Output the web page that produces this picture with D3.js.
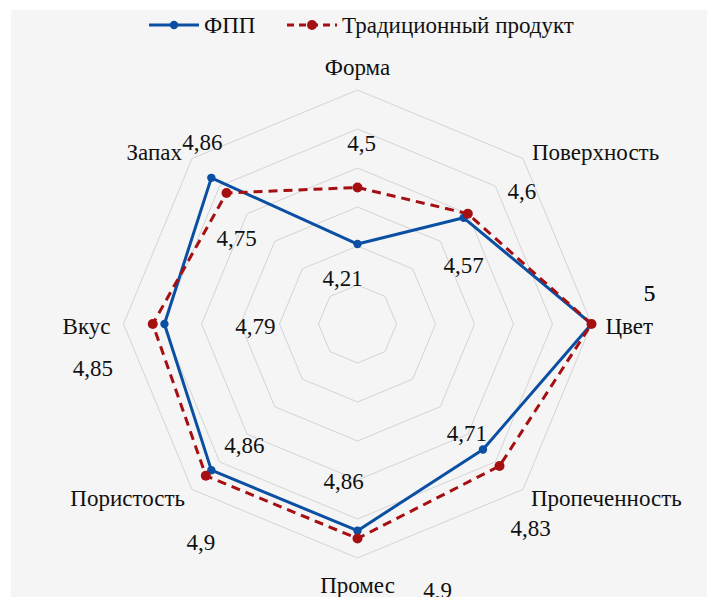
<!DOCTYPE html>
<html>
<head>
<meta charset="utf-8">
<script src="https://cdn.jsdelivr.net/npm/d3@7"></script>
</head>
<body style="margin:0">
<svg id="chart" width="707" height="597" style="display:block"></svg>
<script>
// Sensory profile: axes, clockwise from the top
const axes = ["Форма", "Поверхность", "Цвет", "Пропеченность", "Промес", "Пористость", "Вкус", "Запах"];
const seriesNames = ["ФПП", "Традиционный продукт"];
const fppValues = [4.21, 4.57, 5, 4.71, 4.86, 4.86, 4.79, 4.86];
const tradValues = [4.5, 4.6, 5, 4.83, 4.9, 4.9, 4.85, 4.75];
const gridTicks = [4.0, 4.2, 4.4, 4.6, 4.8, 5.0];

// layout: label offsets (px) for the value labels of each series and the axis names
const fppLabelOffsets = [[-15, 34], [0, 48], [58, -31], [-16, -16], [-14, -49], [33, -25], [91, 2], [-9, -35]];
const tradLabelOffsets = [[4, -44], [54, -22], [58, -31], [31, 62], [80, 52], [-5, 67], [-60, 44], [10, 45]];
const axisLabelPlacement = [
  { dx: 0, dy: -23, anchor: "middle" },
  { dx: 9, dy: -6, anchor: "start" },
  { dx: 14, dy: 2, anchor: "start" },
  { dx: 8, dy: 9, anchor: "start" },
  { dx: 0, dy: 27, anchor: "middle" },
  { dx: -7, dy: 9, anchor: "end" },
  { dx: -13, dy: 2, anchor: "end" },
  { dx: -10, dy: -6, anchor: "end" }
];

const colors = { fpp: "#0b4fa3", trad: "#a50f12" };
const FS = 23;
const svg = d3.select("#chart");
const W = 707, H = 597;

// chart area background
svg.append("rect").attr("x", 11).attr("y", 10).attr("width", W - 11).attr("height", H - 10)
  .attr("fill", "#f5f5f5");

const cx = 357.5, cy = 324, R = 234;
const r = d3.scaleLinear().domain([3.8, 5.0]).range([0, R]);
const angle = i => (-90 + i * 360 / axes.length) * Math.PI / 180;
const pt = (v, i) => [cx + r(v) * Math.cos(angle(i)), cy + r(v) * Math.sin(angle(i))];

const styleText = sel => sel.style("font-family", '"Liberation Serif"').attr("font-size", FS).attr("fill", "#111");

// octagonal grid rings
const ring = d3.line().curve(d3.curveLinearClosed);
svg.append("g").selectAll("path").data(gridTicks).join("path")
  .attr("d", t => ring(axes.map((a, i) => pt(t, i))))
  .attr("fill", "none").attr("stroke", "#d4d4d4").attr("stroke-width", 1);

// axis names
svg.append("g").selectAll("text").data(axes).join("text")
  .attr("x", (a, i) => pt(5.0, i)[0] + axisLabelPlacement[i].dx)
  .attr("y", (a, i) => pt(5.0, i)[1] + axisLabelPlacement[i].dy)
  .attr("text-anchor", (a, i) => axisLabelPlacement[i].anchor)
  .attr("dominant-baseline", "central")
  .call(styleText)
  .text(a => a);

const series = [
  { name: seriesNames[0], values: fppValues, color: colors.fpp, dash: null, mr: 4.2, offsets: fppLabelOffsets },
  { name: seriesNames[1], values: tradValues, color: colors.trad, dash: "9,6", mr: 5, offsets: tradLabelOffsets }
];

// series polygons and markers
series.forEach(s => {
  const g = svg.append("g");
  g.append("path")
    .attr("d", ring(s.values.map((v, i) => pt(v, i))))
    .attr("fill", "none").attr("stroke", s.color).attr("stroke-width", 3)
    .attr("stroke-dasharray", s.dash).attr("stroke-linejoin", "round");
  g.selectAll("circle").data(s.values).join("circle")
    .attr("cx", (v, i) => pt(v, i)[0]).attr("cy", (v, i) => pt(v, i)[1])
    .attr("r", s.mr).attr("fill", s.color);
});

// value labels (decimal comma)
const fmt = v => String(v).replace(".", ",");
series.forEach(s => {
  svg.append("g").selectAll("text").data(s.values).join("text")
    .attr("x", (v, i) => pt(v, i)[0] + s.offsets[i][0])
    .attr("y", (v, i) => pt(v, i)[1] + s.offsets[i][1])
    .attr("text-anchor", "middle").attr("dominant-baseline", "central")
    .call(styleText)
    .text(v => fmt(v));
});

// legend
const legend = svg.append("g").attr("transform", "translate(0,25)");
const items = [
  { x: 149, s: series[0] },
  { x: 287, s: series[1] }
];
items.forEach(({ x, s }) => {
  legend.append("line").attr("x1", x).attr("x2", x + 50).attr("y1", 0).attr("y2", 0)
    .attr("stroke", s.color).attr("stroke-width", 3).attr("stroke-dasharray", s.dash ? "7,5" : null);
  legend.append("circle").attr("cx", x + 25).attr("cy", 0).attr("r", s.mr).attr("fill", s.color);
  legend.append("text").attr("x", x + 55).attr("y", 0).attr("dominant-baseline", "central")
    .call(styleText).text(s.name);
});
</script>
</body>
</html>
